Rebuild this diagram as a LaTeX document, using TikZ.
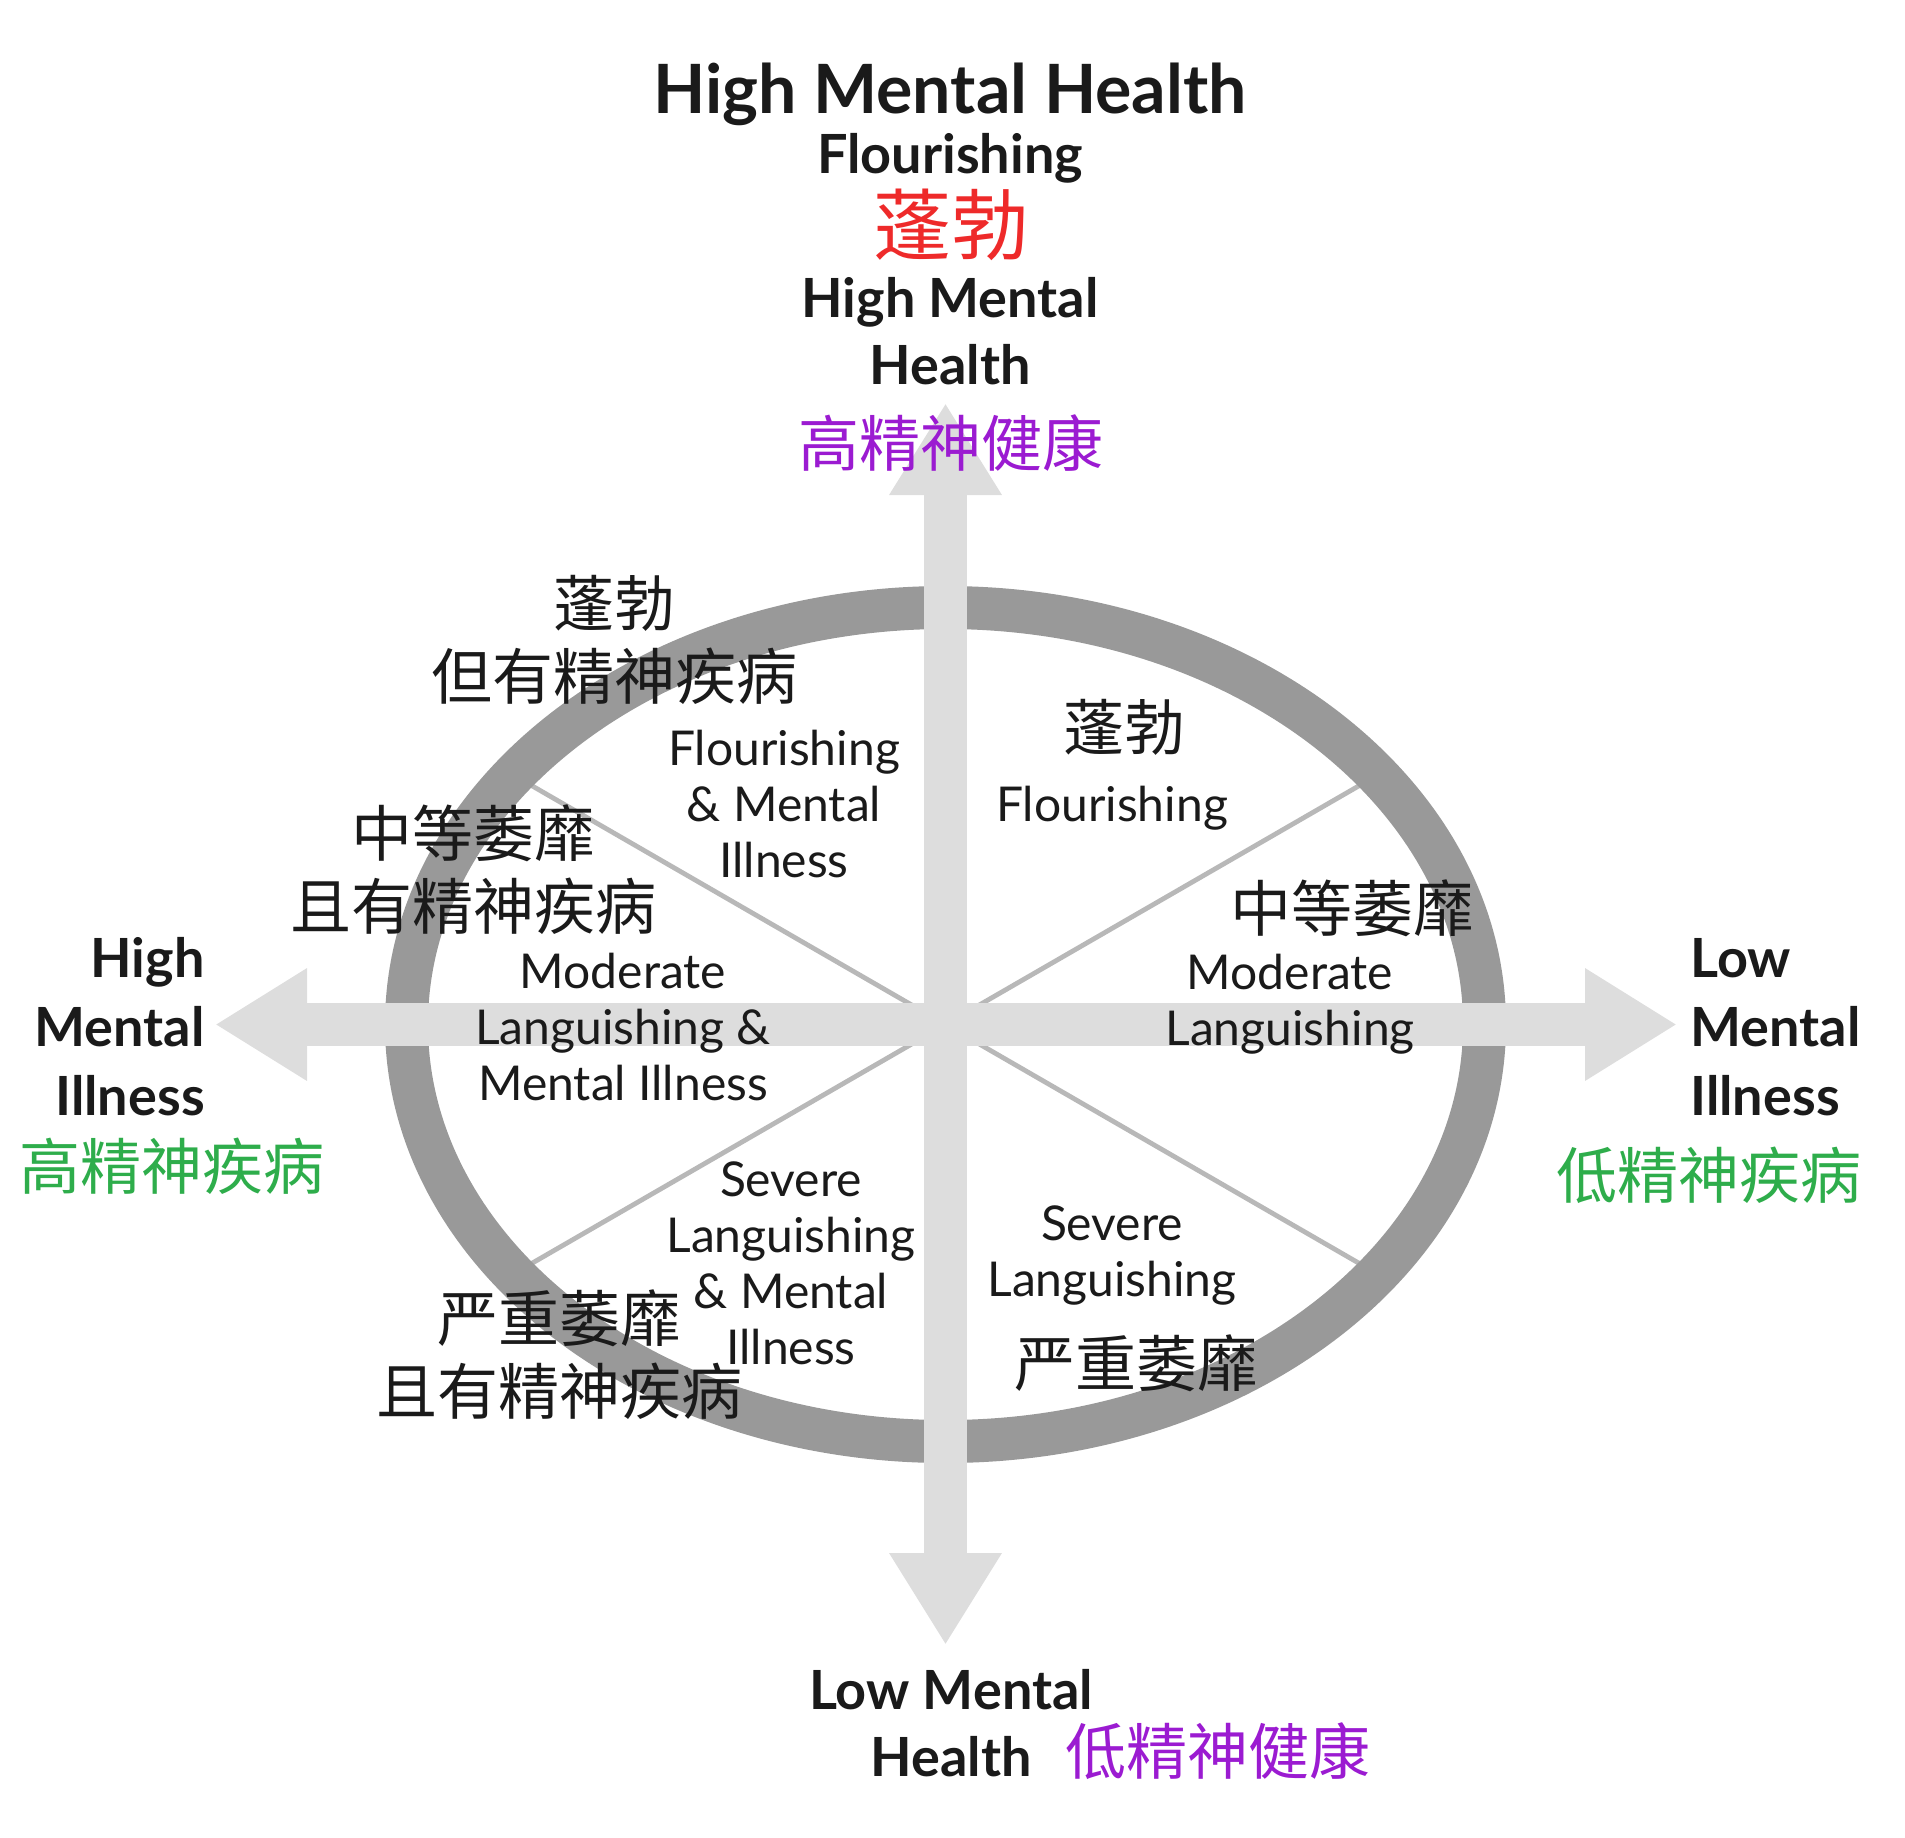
\documentclass[tikz,border=0pt]{standalone}
\usepackage{fontspec}
\setmainfont{Lato}
\newfontfamily\cjk{Noto Sans CJK SC}
\usepackage{tikz}
\usetikzlibrary{arrows.meta}
\definecolor{ringgray}{HTML}{999999}
\definecolor{axisgray}{HTML}{DDDDDD}
\definecolor{spokegray}{HTML}{B8B8B8}
\definecolor{txtblack}{HTML}{1A1A1A}
\definecolor{flred}{HTML}{EE2A2A}
\definecolor{mhpurple}{HTML}{9B1BD1}
\definecolor{migreen}{HTML}{2EAD4B}

\begin{document}
\begin{tikzpicture}[x=0.5pt, y=-0.5pt,
    axisarr/.style={line width=21.5pt, axisgray, >={Triangle[length=46pt,width=53pt]}, <->},
    ringst/.style={draw=ringgray, line width=21.5pt},
    spoke/.style={spokegray, line width=2.4pt},
    titlelbl/.style={font=\fontsize{34}{40}\selectfont\bfseries, text=txtblack, inner sep=0pt},
    headlbl/.style={font=\fontsize{27}{33.5}\selectfont\bfseries, text=txtblack, align=center, inner sep=0pt},
    sidelbl/.style={font=\fontsize{27}{34.5}\selectfont\bfseries, text=txtblack, inner sep=0pt},
    quadlbl/.style={font=\fontsize{24}{28}\selectfont, text=txtblack, align=center, inner sep=0pt},
    quadcjk/.style={font=\cjk\fontsize{30.5}{36.5}\selectfont, text=txtblack, align=center, inner sep=0pt},
    redlbl/.style={font=\cjk\fontsize{39}{44}\selectfont, text=flred, inner sep=0pt},
    purplbl/.style={font=\cjk\fontsize{30.5}{36}\selectfont, text=mhpurple, inner sep=0pt},
    greenlbl/.style={font=\cjk\fontsize{30.5}{36}\selectfont, text=migreen, inner sep=0pt}
]
\useasboundingbox (0,0) rectangle (1905,1837);

% axes and ring
\coordinate (c) at (945.5,1024.5);
\coordinate (top) at (945.5,403);
\coordinate (bot) at (945.5,1645);
\coordinate (lft) at (215,1024.5);
\coordinate (rgt) at (1677,1024.5);
\coordinate (ul) at (513.5,775.1);
\coordinate (ur) at (1377.5,775.1);
\coordinate (ll) at (513.5,1273.9);
\coordinate (lr) at (1377.5,1273.9);

\draw[spoke] (c) -- (ul);
\draw[spoke] (c) -- (ur);
\draw[spoke] (c) -- (ll);
\draw[spoke] (c) -- (lr);
\draw[ringst] (c) ellipse [x radius=539, y radius=417];
\draw[axisarr] (bot) -- (top);
\draw[axisarr] (lft) -- (rgt);

% top labels
\node[titlelbl, anchor=base] (ttl) at (950,113) {High Mental Health};
\node[headlbl, anchor=base] (flh) at (950,173) {Flourishing};
\node[redlbl] (flz) at (951,225) {蓬勃};
\node[headlbl, anchor=base] (hmh) at (950,384) {High Mental\\Health};
\node[purplbl] (hmz) at (951,443) {高精神健康};

% side labels
\node[sidelbl, align=right, anchor=base east] (hmi) at (205,1115) {High\\Mental\\Illness};
\node[greenlbl] (hmiz) at (172,1166) {高精神疾病};
\node[sidelbl, align=left, anchor=base west] (lmi) at (1690,1115) {Low\\Mental\\Illness};
\node[greenlbl] (lmiz) at (1709,1175) {低精神疾病};

% bottom labels
\node[headlbl, anchor=base] (lmh) at (951,1776) {Low Mental\\Health};
\node[purplbl] (lmhz) at (1218,1751) {低精神健康};

% quadrant labels
\node[quadcjk] (flmiz) at (614,640) {蓬勃\\但有精神疾病};
\node[quadlbl, anchor=base] (flmi) at (784,877) {Flourishing\\\& Mental\\Illness};
\node[quadcjk] (mlmiz) at (473,870) {中等萎靡\\且有精神疾病};
\node[quadlbl, anchor=base] (mlmi) at (623,1100) {Moderate\\Languishing \&\\Mental Illness};
\node[quadcjk] (flz2) at (1124,727) {蓬勃};
\node[quadlbl, anchor=base] (fl) at (1112,821) {Flourishing};
\node[quadcjk] (mlz) at (1352,908) {中等萎靡};
\node[quadlbl, anchor=base] (ml) at (1290,1045) {Moderate\\Languishing};
\node[quadlbl, anchor=base] (slmi) at (791,1364) {Severe\\Languishing\\\& Mental\\Illness};
\node[quadcjk] (slmiz) at (559,1355) {严重萎靡\\且有精神疾病};
\node[quadlbl, anchor=base] (sl) at (1112,1296) {Severe\\Languishing};
\node[quadcjk] (slz) at (1136,1363) {严重萎靡};
\end{tikzpicture}
\end{document}
